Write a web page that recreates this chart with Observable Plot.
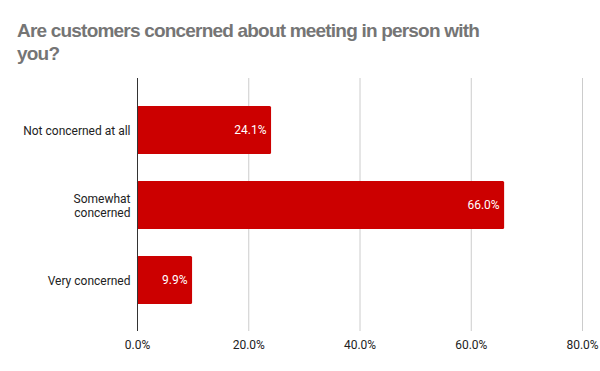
<!DOCTYPE html>
<html>
<head>
<meta charset="utf-8">
<script src="https://cdn.jsdelivr.net/npm/d3@7"></script>
<script src="https://cdn.jsdelivr.net/npm/@observablehq/plot@0.6"></script>
<style>
  html, body { margin: 0; padding: 0; background: #fff; }
  body { width: 600px; height: 371px; overflow: hidden; font-family: Roboto, "Liberation Sans", sans-serif; }
  #title { height: 70px; box-sizing: border-box; padding: 19px 0 0 17px; font-family: "Liberation Sans", Arial, sans-serif; font-weight: bold; font-size: 19px; letter-spacing: -0.8px; line-height: 23px; color: #757575; }
  #chart svg { display: block; }
</style>
</head>
<body>
<div id="title">Are customers concerned about meeting in person with<br>you?</div>
<div id="chart"></div>
<script>
const categories = ["Not concerned at all", "Somewhat concerned", "Very concerned"];
const values = [0.241, 0.660, 0.099];
const tickLabels = ["Not concerned at all", "Somewhat\nconcerned", "Very concerned"];
const xTicks = [0, 0.2, 0.4, 0.6, 0.8];

const data = categories.map((c, i) => ({category: c, value: values[i]}));
const fmt = d3.format(".1%");

const chart = Plot.plot({
  width: 600,
  height: 301,
  marginTop: 8,
  marginBottom: 40,
  marginLeft: 137,
  marginRight: 18,
  style: {fontFamily: "Roboto, sans-serif", fontSize: "12px", color: "#222", background: "#fff"},
  x: {domain: [0, 0.8], ticks: xTicks, tickFormat: fmt, grid: false, label: null},
  y: {domain: categories, padding: 0.36, label: null},
  marks: [
    Plot.ruleX(xTicks.slice(1), {stroke: "#cccccc", strokeWidth: 1, strokeOpacity: 1}),
    Plot.barX(data, {x: "value", y: "category", fill: "#cc0000", rx: 1.5}),
    Plot.ruleX([0], {stroke: "#333333", strokeWidth: 1}),
    Plot.text(data, {x: "value", y: "category", text: d => fmt(d.value), textAnchor: "end", dx: -5, fill: "#ffffff", fontSize: 12}),
    Plot.axisX({ticks: xTicks, tickFormat: fmt, tickSize: 0, tickPadding: 9, fontSize: 12, fill: "#222", label: null}),
    Plot.axisY({tickSize: 0, tickPadding: 7, tickFormat: d => tickLabels[categories.indexOf(d)], fontSize: 12, fill: "#222", label: null, lineHeight: 1.17})
  ]
});
document.getElementById("chart").appendChild(chart);
</script>
</body>
</html>
